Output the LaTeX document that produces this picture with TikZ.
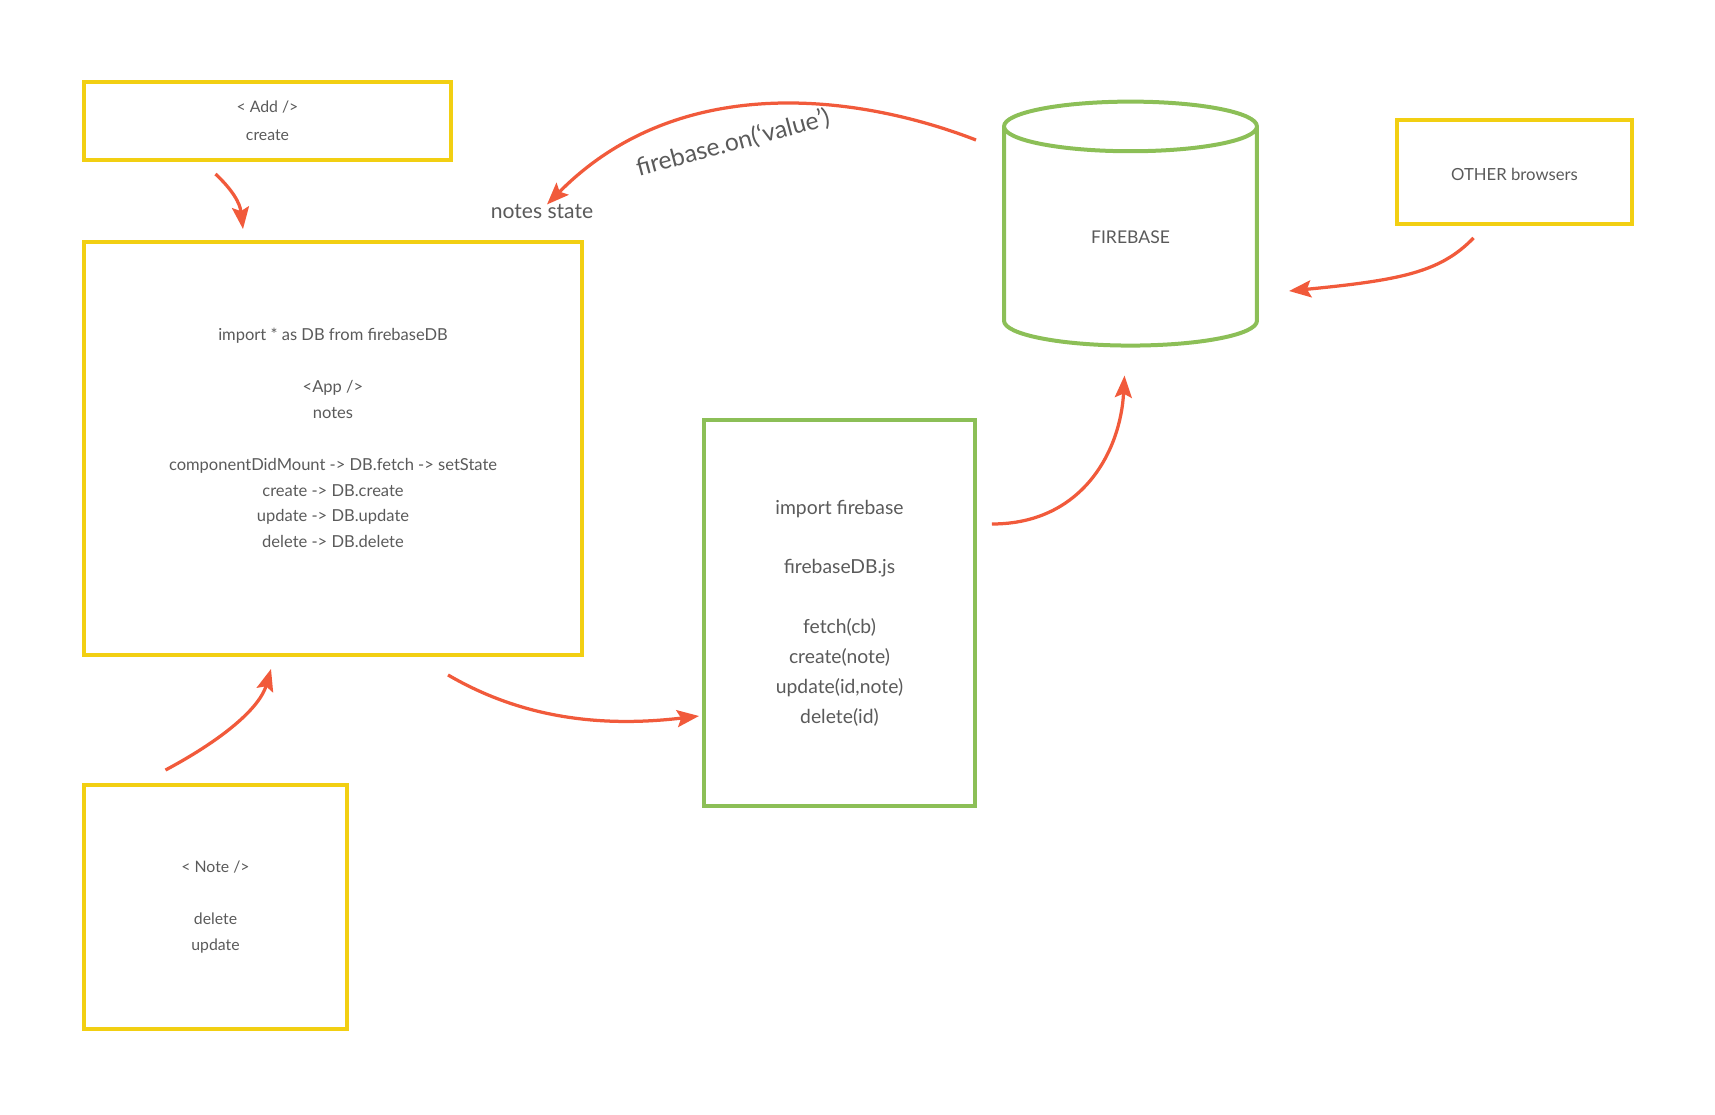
\documentclass[tikz,border=0pt]{standalone}
\usepackage{fontspec}
\setmainfont{Lato}
\usetikzlibrary{calc,shapes.geometric,arrows.meta}
\definecolor{boxyellow}{HTML}{F2CF12}
\definecolor{boxgreen}{HTML}{8CBF57}
\definecolor{flowred}{HTML}{F15A3B}
\definecolor{inkgray}{HTML}{5A5A5A}

\begin{document}
\begin{tikzpicture}[x=0.02cm, y=-0.02cm,
	ybox/.style={draw=boxyellow, line width=0.08cm, text=inkgray, align=center, inner sep=0pt},
	gbox/.style={draw=boxgreen, line width=0.08cm, text=inkgray, align=center, inner sep=0pt},
	flow/.style={draw=flowred, line width=0.065cm, -{Stealth[length=0.44cm, width=0.34cm, inset=0.08cm]}},
	scribble/.style={text=inkgray, inner sep=0pt}]
			%%%%% START %%%%%
			\useasboundingbox (0, 0) rectangle (1715, 1115);
			
			\node[ybox, minimum width=7.34cm, minimum height=1.56cm, font=\fontsize{9}{15.9}\selectfont] (add) at (267.5, 121) {< Add />\\ create};
			
			\node[ybox, minimum width=9.96cm, minimum height=8.26cm, text depth=12pt, font=\fontsize{9.4}{14.6}\selectfont] (app) at (333, 448.5)
				{import * as DB from firebaseDB\\[15pt] <App />\\ notes\\[15pt]
				 componentDidMount -> DB.fetch -> setState\\ create -> DB.create\\ update -> DB.update\\ delete -> DB.delete};
			
			\node[ybox, minimum width=5.26cm, minimum height=4.88cm, font=\fontsize{9}{14.7}\selectfont] (note) at (215.5, 907) {< Note />\\[15pt] delete\\ update};
			
			\node[gbox, minimum width=5.42cm, minimum height=7.72cm, font=\fontsize{11}{17}\selectfont] (fbdb) at (839.5, 613)
				{import firebase\\[17pt] firebaseDB.js\\[17pt] fetch(cb)\\ create(note)\\ update(id,note)\\ delete(id)};
			
			\node[gbox, cylinder, shape border rotate=90, aspect=0.63, minimum width=5.06cm, minimum height=4.88cm, font=\fontsize{10}{12}\selectfont] (firebase) at (1130.5, 237) {FIREBASE};
			
			\node[ybox, minimum width=4.7cm, minimum height=2.08cm, text height=10pt, font=\fontsize{9.5}{12}\selectfont] (others) at (1514.5, 172) {OTHER browsers};
			
			\node[scribble, font=\fontsize{12}{14}\selectfont] (nstate) at (542, 212) {notes state};
			\node[scribble, font=\fontsize{14}{16}\selectfont, rotate=15] (onvalue) at (733, 143) {firebase.on(`value')};
			
			% arrows
			\draw[flow] ($(add.south)+(-52, 12)$) .. controls ($(add.south)+(-35, 28)$) and ($(app.north)+(-93, -37)$) .. ($(app.north)+(-90, -11)$);
			\draw[flow] (976, 140) .. controls (860, 95) and (680, 70) .. ($(nstate.north)+(5, 0)$);
			\draw[flow] ($(note.north)+(-50, -13)$) .. controls ($(note.north)+(10, -45)$) and ($(app.south)+(-73, 50)$) .. ($(app.south)+(-62, 12)$);
			\draw[flow] ($(app.south)+(115, 18)$) .. controls ($(app.south)+(187, 60)$) and ($(fbdb.west)+(-104, 115)$) .. ($(fbdb.west)+(-3, 103)$);
			\draw[flow] ($(fbdb.east)+(15, -89)$) .. controls ($(fbdb.east)+(105, -89)$) and ($(firebase.south)+(-10, 104)$) .. ($(firebase.south)+(-6, 28)$);
			\draw[flow] ($(others.south)+(-41, 12)$) .. controls ($(others.south)+(-74, 46)$) and ($(firebase.east)+(143, 43)$) .. ($(firebase.east)+(30, 54)$);
			
			%%%%% END %%%%%
\end{tikzpicture}
\end{document}
